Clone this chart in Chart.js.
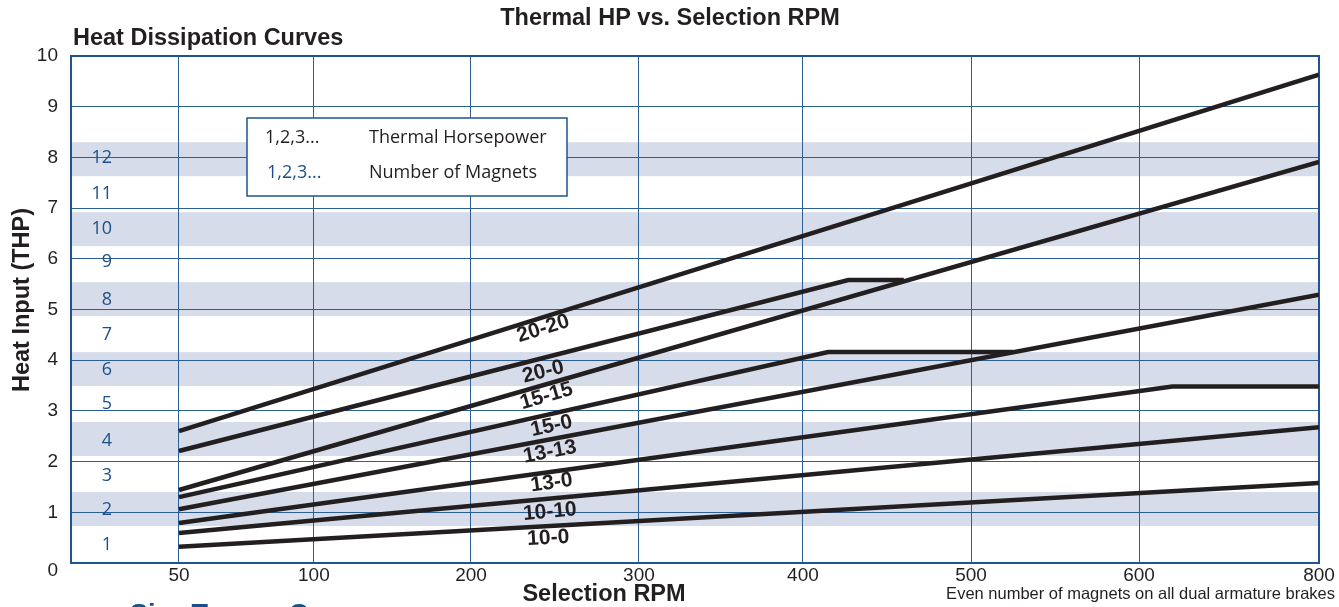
<!DOCTYPE html>
<html>
<head>
<meta charset="utf-8">
<script src="https://cdn.jsdelivr.net/npm/chart.js@4.4.1/dist/chart.umd.min.js"></script>
<style>
  html, body { margin: 0; padding: 0; background: #ffffff; }
  #wrap { width: 1339px; height: 607px; position: relative; overflow: hidden; }
</style>
</head>
<body>
<div id="wrap"><canvas id="c" width="1339" height="607"></canvas></div>
<script>
// ---------------- DATA ----------------
const rpmTicks = [50, 100, 200, 300, 400, 500, 600, 800];
const thpTicks = [0, 1, 2, 3, 4, 5, 6, 7, 8, 9, 10];

const curveNames = ['20-20', '20-0', '15-15', '15-0', '13-13', '13-0', '10-10', '10-0'];

const rpm20_20 = [50, 800];           const thp20_20 = [2.60, 9.63];
const rpm20_0  = [50, 427, 460];      const thp20_0  = [2.21, 5.58, 5.58];
const rpm15_15 = [50, 800];           const thp15_15 = [1.44, 7.91];
const rpm15_0  = [50, 415, 525];      const thp15_0  = [1.30, 4.16, 4.16];
const rpm13_13 = [50, 800];           const thp13_13 = [1.06, 5.29];
const rpm13_0  = [50, 637, 800];      const thp13_0  = [0.79, 3.48, 3.48];
const rpm10_10 = [50, 800];           const thp10_10 = [0.59, 2.68];
const rpm10_0  = [50, 800];           const thp10_0  = [0.32, 1.58];

// curve label anchors (RPM, THP)
const labelRpm = [243, 243, 245, 248, 247, 248, 247, 246];
const labelThp = [4.62, 3.77, 3.29, 2.70, 2.19, 1.58, 1.01, 0.49];

// number of magnets scale (left column) and shaded bands (even magnets)
const magnetCounts = [1, 2, 3, 4, 5, 6, 7, 8, 9, 10, 11, 12];
const magnetThp    = [0.36, 1.05, 1.72, 2.41, 3.14, 3.81, 4.50, 5.19, 5.94, 6.59, 7.28, 7.99];
const bandFrom = [0.73, 2.11, 3.49, 4.87, 6.25, 7.63];
const bandTo   = [1.40, 2.78, 4.16, 5.54, 6.92, 8.30];

// ---------------- SCALE: non-uniform RPM axis ----------------
const axisStops = [0, 50, 100, 200, 300, 400, 500, 600, 800];
const axisFracs = [0, 0.0865, 0.1946, 0.3205, 0.4551, 0.5865, 0.7212, 0.8558, 1];

const LinearScale = Chart.LinearScale || Chart.registry.getScale('linear');
class PiecewiseScale extends LinearScale {
  _dec(v) {
    const s = axisStops, f = axisFracs;
    if (v <= s[0]) return f[0];
    for (let i = 1; i < s.length; i++) {
      if (v <= s[i]) return f[i - 1] + (f[i] - f[i - 1]) * (v - s[i - 1]) / (s[i] - s[i - 1]);
    }
    return f[f.length - 1];
  }
  getPixelForValue(v) { return this.getPixelForDecimal(this._dec(v)); }
  getValueForPixel(p) {
    const d = this.getDecimalForPixel(p);
    const s = axisStops, f = axisFracs;
    for (let i = 1; i < f.length; i++) {
      if (d <= f[i]) return s[i - 1] + (s[i] - s[i - 1]) * (d - f[i - 1]) / (f[i] - f[i - 1]);
    }
    return s[s.length - 1];
  }
}
PiecewiseScale.id = 'piecewise';
PiecewiseScale.defaults = {};
Chart.register(PiecewiseScale);

// ---------------- helpers ----------------
function pts(xs, ys) { return xs.map((x, i) => ({ x: x, y: ys[i] })); }
const curveData = [
  pts(rpm20_20, thp20_20), pts(rpm20_0, thp20_0), pts(rpm15_15, thp15_15), pts(rpm15_0, thp15_0),
  pts(rpm13_13, thp13_13), pts(rpm13_0, thp13_0), pts(rpm10_10, thp10_10), pts(rpm10_0, thp10_0)
];

const INK = '#231f20';
const BLUE = '#1b4f8a';
const GRID = '#2c5f93';

const decor = {
  id: 'decor',
  beforeDraw(chart) {
    const { ctx, chartArea: a, scales: { y } } = chart;
    ctx.save();
    ctx.fillStyle = '#d7dcea';
    for (let i = 0; i < bandFrom.length; i++) {
      const t = y.getPixelForValue(bandTo[i]);
      const b = y.getPixelForValue(bandFrom[i]);
      ctx.fillRect(a.left, t, a.right - a.left, b - t);
    }
    ctx.restore();
  },
  beforeDatasetsDraw(chart) {
    const { ctx, chartArea: a, scales: { x, y } } = chart;
    ctx.save();
    // magnet numbers
    ctx.fillStyle = BLUE;
    ctx.font = '18px "Open Sans"';
    ctx.textAlign = 'right';
    ctx.textBaseline = 'middle';
    const mx = x.getPixelForValue(19);
    magnetCounts.forEach((n, i) => ctx.fillText(String(n), mx, y.getPixelForValue(magnetThp[i])));
    // plot border
    ctx.strokeStyle = '#1d5590';
    ctx.lineWidth = 2;
    ctx.strokeRect(a.left, a.top, a.right - a.left, a.bottom - a.top);
    // key box
    ctx.fillStyle = '#ffffff';
    ctx.fillRect(247, 118, 320, 78);
    ctx.lineWidth = 1.5;
    ctx.strokeRect(247, 118, 320, 78);
    ctx.textAlign = 'left';
    ctx.font = '18px "Open Sans"';
    ctx.fillStyle = INK;
    ctx.fillText('1,2,3...', 265, 138);
    ctx.fillText('Thermal Horsepower', 369, 138);
    ctx.fillText('Number of Magnets', 369, 173);
    ctx.fillStyle = BLUE;
    ctx.font = '18px "Open Sans"';
    ctx.fillText('1,2,3...', 267, 173);
    ctx.restore();
  },
  afterDatasetsDraw(chart) {
    const { ctx, scales: { x, y } } = chart;
    ctx.save();
    ctx.fillStyle = INK;
    ctx.font = 'bold 21px "Liberation Sans", Arial, sans-serif';
    ctx.textAlign = 'center';
    ctx.textBaseline = 'middle';
    curveNames.forEach((name, i) => {
      const meta = chart.getDatasetMeta(i);
      const p0 = meta.data[0], p1 = meta.data[1];
      const ang = Math.atan2(p1.y - p0.y, p1.x - p0.x);
      ctx.save();
      ctx.translate(x.getPixelForValue(labelRpm[i]), y.getPixelForValue(labelThp[i]));
      ctx.rotate(ang);
      ctx.fillText(name, 0, 0);
      ctx.restore();
    });
    ctx.restore();
  },
  afterDraw(chart) {
    const { ctx } = chart;
    ctx.save();
    ctx.fillStyle = INK;
    ctx.textBaseline = 'alphabetic';
    ctx.font = 'bold 23.5px "Liberation Sans", Arial, sans-serif';
    ctx.textAlign = 'center';
    ctx.fillText('Thermal HP vs. Selection RPM', 670, 25);
    ctx.textAlign = 'left';
    ctx.fillText('Heat Dissipation Curves', 73, 45);
    ctx.textAlign = 'center';
    ctx.fillText('Selection RPM', 604, 601);
    ctx.save();
    ctx.translate(29, 300);
    ctx.rotate(-Math.PI / 2);
    ctx.fillText('Heat Input (THP)', 0, 0);
    ctx.restore();
    ctx.font = '16.5px "Liberation Sans", Arial, sans-serif';
    ctx.textAlign = 'right';
    ctx.fillText('Even number of magnets on all dual armature brakes', 1335, 599);
    ctx.fillStyle = BLUE;
    ctx.textAlign = 'left';
    ctx.font = 'bold 27px "Liberation Sans", Arial, sans-serif';
    ctx.fillText('Size Torque Group', 130, 623);
    ctx.restore();
  }
};

new Chart(document.getElementById('c'), {
  type: 'line',
  data: {
    datasets: curveNames.map((n, i) => ({
      label: n,
      data: curveData[i],
      borderColor: INK,
      borderWidth: 4.5,
      pointRadius: 0,
      tension: 0,
      fill: false
    }))
  },
  options: {
    responsive: false,
    animation: false,
    events: [],
    layout: { padding: { top: 56, right: 20, bottom: 0, left: 0 } },
    plugins: { legend: { display: false }, tooltip: { enabled: false }, title: { display: false } },
    scales: {
      x: {
        type: 'piecewise',
        min: 0,
        max: 800,
        afterBuildTicks: s => { s.ticks = rpmTicks.map(v => ({ value: v })); },
        afterFit: s => { s.height = 44; s.paddingLeft = 0; s.paddingRight = 0; },
        grid: { color: GRID, lineWidth: 1, drawTicks: false },
        border: { display: false },
        ticks: {
          padding: 1,
          color: INK,
          maxRotation: 0,
          autoSkip: false,
          font: { family: '"Liberation Sans", Arial, sans-serif', size: 19 },
          callback: v => String(v)
        }
      },
      y: {
        type: 'linear',
        min: 0,
        max: 10,
        afterBuildTicks: s => { s.ticks = thpTicks.map(v => ({ value: v })); },
        afterFit: s => { s.width = 71; s.paddingTop = 0; s.paddingBottom = 0; },
        grid: { color: GRID, lineWidth: 1, drawTicks: false },
        border: { display: false },
        ticks: {
          padding: 13,
          color: INK,
          font: { family: '"Liberation Sans", Arial, sans-serif', size: 19, lineHeight: 0.85 },
          callback: v => (v === 0 ? ['', '0'] : String(v))
        }
      }
    }
  },
  plugins: [decor]
});
</script>
</body>
</html>
